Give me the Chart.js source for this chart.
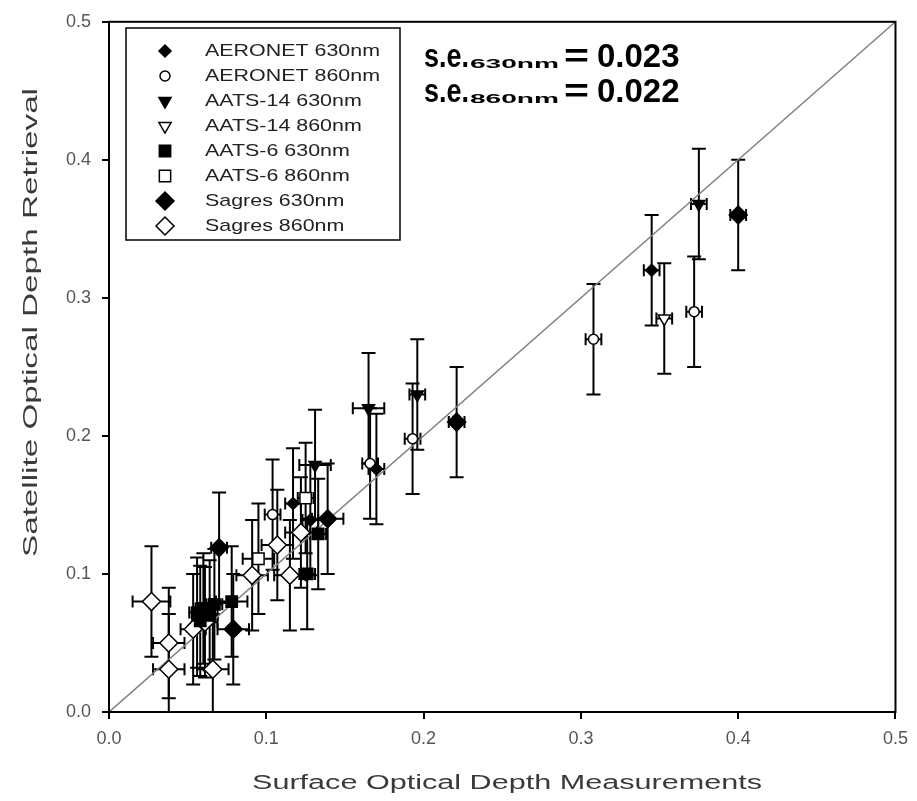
<!DOCTYPE html>
<html>
<head>
<meta charset="utf-8">
<script src="https://cdn.jsdelivr.net/npm/chart.js@4.4.1/dist/chart.umd.min.js"></script>
<style>
  html, body { margin: 0; padding: 0; background: #fff; }
  #wrap { width: 917px; height: 801px; position: relative; }
</style>
</head>
<body>
<div id="wrap"><canvas id="chart"></canvas></div>
<script>
// each point: [surface, satellite, xErr, yErr]
const aeronet630 = [[0.345, 0.32, 0.005, 0.04], [0.17, 0.176, 0.005, 0.04], [0.128, 0.139, 0.005, 0.04], [0.117, 0.151, 0.005, 0.04]];
const aeronet860 = [[0.372, 0.29, 0.005, 0.04], [0.308, 0.27, 0.005, 0.04], [0.193, 0.198, 0.005, 0.04], [0.104, 0.143, 0.005, 0.04], [0.166, 0.18, 0.005, 0.04]];
const aats14_630 = [[0.375, 0.368, 0.005, 0.04], [0.196, 0.23, 0.005, 0.04], [0.165, 0.22, 0.01, 0.04], [0.131, 0.179, 0.01, 0.04]];
const aats14_860 = [[0.353, 0.285, 0.005, 0.04]];
const aats6_630 = [[0.126, 0.10, 0.005, 0.04], [0.133, 0.129, 0.005, 0.04], [0.078, 0.08, 0.01, 0.04], [0.056, 0.072, 0.005, 0.04],
                   [0.06, 0.075, 0.005, 0.04], [0.064, 0.07, 0.005, 0.04], [0.067, 0.078, 0.005, 0.04], [0.058, 0.066, 0.005, 0.04]];
const aats6_860 = [[0.095, 0.111, 0.01, 0.04], [0.125, 0.155, 0.005, 0.04]];
const sagres630 = [[0.40, 0.36, 0.005, 0.04], [0.221, 0.21, 0.005, 0.04], [0.07, 0.119, 0.005, 0.04], [0.139, 0.14, 0.01, 0.04], [0.079, 0.06, 0.01, 0.04]];
const sagres860 = [[0.027, 0.08, 0.012, 0.04], [0.038, 0.05, 0.01, 0.04], [0.038, 0.031, 0.01, 0.04], [0.0535, 0.06, 0.008, 0.04],
                   [0.061, 0.065, 0.008, 0.04], [0.066, 0.031, 0.01, 0.04], [0.091, 0.099, 0.01, 0.04], [0.107, 0.121, 0.01, 0.04],
                   [0.115, 0.099, 0.01, 0.04], [0.122, 0.13, 0.01, 0.04]];

const seriesNames = ['AERONET 630nm', 'AERONET 860nm', 'AATS-14 630nm', 'AATS-14 860nm', 'AATS-6 630nm', 'AATS-6 860nm', 'Sagres 630nm', 'Sagres 860nm'];
const seriesData = [aeronet630, aeronet860, aats14_630, aats14_860, aats6_630, aats6_860, sagres630, sagres860];
const axisTicks = [0, 0.1, 0.2, 0.3, 0.4, 0.5];
const oneToOne = [0, 0.5];
const seLabels = ['630nm', '860nm'];
const seValues = ['0.023', '0.022'];
const xTitle = 'Surface Optical Depth Measurements';
const yTitle = 'Satellite Optical Depth Retrieval';

const FONT = '"Liberation Sans", Arial, sans-serif';

const markers = [
    { style: 'rectRot', r: 6, rot: 0, fill: true },
    { style: 'circle', r: 5, rot: 0, fill: false },
    { style: 'triangle', r: 7, rot: 180, fill: true },
    { style: 'triangle', r: 7, rot: 180, fill: false },
    { style: 'rect', r: 8, rot: 0, fill: true },
    { style: 'rect', r: 8, rot: 0, fill: false },
    { style: 'rectRot', r: 9, rot: 0, fill: true },
    { style: 'rectRot', r: 9, rot: 0, fill: false }
];

// text squeezed/stretched to a given width
function wideText(ctx, text, x, y, width) {
    const w = ctx.measureText(text).width;
    ctx.save();
    ctx.translate(x, y);
    ctx.scale(width / w, 1);
    ctx.fillText(text, 0, 0);
    ctx.restore();
}

const errorBars = {
    id: 'errorBars',
    beforeDatasetsDraw(chart) {
        const { ctx, chartArea: a, scales: { x, y } } = chart;
        ctx.save();
        ctx.beginPath();
        ctx.rect(a.left, a.top, a.width, a.height);
        ctx.clip();
        ctx.strokeStyle = '#000';
        ctx.lineWidth = 2;
        chart.data.datasets.forEach(ds => {
            if (!ds.errors) return;
            ds.errors.forEach((e, i) => {
                const p = ds.data[i];
                const px = x.getPixelForValue(p.x), py = y.getPixelForValue(p.y);
                const x0 = x.getPixelForValue(p.x - e[0]), x1 = x.getPixelForValue(p.x + e[0]);
                const y0 = y.getPixelForValue(p.y - e[1]), y1 = y.getPixelForValue(p.y + e[1]);
                ctx.beginPath();
                ctx.moveTo(px, y0); ctx.lineTo(px, y1);
                ctx.moveTo(px - 7, y0); ctx.lineTo(px + 7, y0);
                ctx.moveTo(px - 7, y1); ctx.lineTo(px + 7, y1);
                ctx.moveTo(x0, py); ctx.lineTo(x1, py);
                ctx.moveTo(x0, py - 6); ctx.lineTo(x0, py + 6);
                ctx.moveTo(x1, py - 6); ctx.lineTo(x1, py + 6);
                ctx.stroke();
            });
        });
        ctx.restore();
    }
};

const decorations = {
    id: 'decorations',
    afterDraw(chart) {
        const { ctx, chartArea: a } = chart;
        ctx.save();

        // frame
        ctx.strokeStyle = '#000';
        ctx.lineWidth = 2;
        ctx.strokeRect(a.left, a.top, a.width, a.height);

        // legend box
        const lx = 126, ly = 28, lw = 274, lh = 212;
        ctx.fillStyle = '#fff';
        ctx.fillRect(lx, ly, lw, lh);
        ctx.lineWidth = 1.5;
        ctx.strokeRect(lx, ly, lw, lh);
        ctx.font = '17px ' + FONT;
        ctx.textBaseline = 'middle';
        ctx.textAlign = 'left';
        const sx = 175 / ctx.measureText(seriesNames[0]).width;
        seriesNames.forEach((name, i) => {
            const cy = 51 + i * 25;
            const m = markers[i];
            ctx.fillStyle = m.fill ? '#000' : '#fff';
            ctx.strokeStyle = '#000';
            ctx.lineWidth = 1.5;
            Chart.helpers.drawPoint(ctx, { pointStyle: m.style, radius: m.r, rotation: m.rot, borderWidth: 1.5 }, 165, cy);
            ctx.fillStyle = '#222';
            wideText(ctx, name, 205, cy, ctx.measureText(name).width * sx);
        });

        // s.e. annotation
        ctx.textBaseline = 'alphabetic';
        ctx.fillStyle = '#000';
        seLabels.forEach((sub, i) => {
            const by = 67 + i * 35;
            ctx.font = 'bold 33px ' + FONT;
            wideText(ctx, 's.e.', 424, by, 45);
            wideText(ctx, '=', 564, by, 25);
            ctx.fillText(seValues[i], 597, by);
            ctx.font = 'bold 13px ' + FONT;
            wideText(ctx, sub, 470, by + 1, 89);
        });

        // axis titles
        ctx.fillStyle = '#3a3a3a';
        ctx.font = '20px ' + FONT;
        wideText(ctx, xTitle, 252, 789, 510);
        ctx.save();
        ctx.translate(37, 557);
        ctx.rotate(-Math.PI / 2);
        wideText(ctx, yTitle, 0, 0, 469);
        ctx.restore();

        ctx.restore();
    }
};

function axis(isX) {
    return {
        type: 'linear',
        min: 0,
        max: 0.5,
        afterFit: s => { if (isX) s.height = 89; else s.width = 109; },
        afterBuildTicks: s => { s.ticks = axisTicks.map(v => ({ value: v })); },
        ticks: {
            callback: v => v.toFixed(1),
            color: '#555',
            font: { family: FONT, size: 18 },
            padding: isX ? 9 : 11,
            maxRotation: 0
        },
        grid: { drawOnChartArea: false, color: '#000', lineWidth: 2, tickLength: 7 },
        border: { color: '#000', width: 2 }
    };
}

const datasets = seriesData.map((pts, i) => ({
    label: seriesNames[i],
    data: pts.map(p => ({ x: p[0], y: p[1] })),
    errors: pts.map(p => [p[2], p[3]]),
    pointStyle: markers[i].style,
    pointRadius: markers[i].r,
    pointRotation: markers[i].rot,
    pointBackgroundColor: markers[i].fill ? '#000' : '#fff',
    pointBorderColor: '#000',
    pointBorderWidth: 1.5,
    order: 1
}));

datasets.push({
    type: 'line',
    label: '1:1',
    data: oneToOne.map(v => ({ x: v, y: v })),
    borderColor: '#808080',
    borderWidth: 1.5,
    pointRadius: 0,
    order: 10
});

new Chart(document.getElementById('chart'), {
    type: 'scatter',
    data: { datasets },
    options: {
        responsive: true,
        maintainAspectRatio: false,
        animation: false,
        layout: { padding: { top: 12, right: 13, left: 0, bottom: 0 } },
        plugins: { legend: { display: false }, tooltip: { enabled: false } },
        scales: { x: axis(true), y: axis(false) }
    },
    plugins: [errorBars, decorations]
});
</script>
</body>
</html>
